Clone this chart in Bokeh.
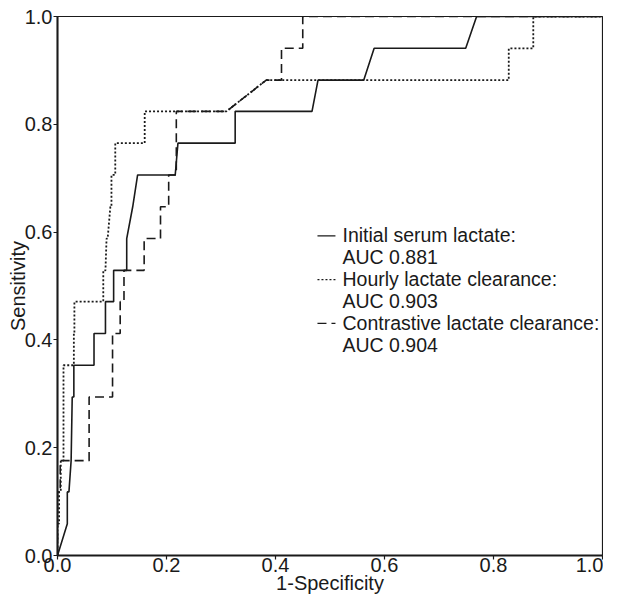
from bokeh.plotting import figure
from bokeh.models import Range1d, FixedTicker, PrintfTickFormatter, Label
from bokeh.embed import file_html
from bokeh.resources import INLINE

FONT = "Liberation Sans"
INK = "#1a1a1a"

# ---- data ----
ticks = [0.0, 0.2, 0.4, 0.6, 0.8, 1.0]
x_title = "1-Specificity"
y_title = "Sensitivity"

initial_fpr = [0.000, 0.018, 0.018, 0.021, 0.025, 0.027, 0.030, 0.030, 0.067, 0.067,
               0.088, 0.088, 0.103, 0.103, 0.127, 0.127, 0.138, 0.147, 0.216, 0.221,
               0.326, 0.326, 0.467, 0.478, 0.562, 0.581, 0.749, 0.769, 1.000]
initial_tpr = [0.000, 0.059, 0.118, 0.118, 0.176, 0.294, 0.294, 0.353, 0.353, 0.412,
               0.412, 0.471, 0.471, 0.529, 0.529, 0.588, 0.647, 0.706, 0.706, 0.765,
               0.765, 0.824, 0.824, 0.882, 0.882, 0.941, 0.941, 1.000, 1.000]

hourly_fpr = [0.000, 0.000, 0.003, 0.003, 0.006, 0.006, 0.011, 0.011, 0.030, 0.030,
              0.031, 0.031, 0.084, 0.084, 0.088, 0.090, 0.092, 0.097, 0.099, 0.099,
              0.106, 0.106, 0.160, 0.160, 0.310, 0.383, 0.828, 0.828, 0.873, 0.873, 1.000]
hourly_tpr = [0.000, 0.059, 0.059, 0.118, 0.118, 0.176, 0.176, 0.353, 0.353, 0.412,
              0.412, 0.471, 0.471, 0.529, 0.529, 0.588, 0.588, 0.647, 0.647, 0.706,
              0.706, 0.765, 0.765, 0.824, 0.824, 0.882, 0.882, 0.941, 0.941, 1.000, 1.000]

contrast_fpr = [0.000, 0.000, 0.005, 0.005, 0.058, 0.058, 0.101, 0.101, 0.115, 0.115,
                0.122, 0.122, 0.159, 0.159, 0.189, 0.189, 0.204, 0.204, 0.218, 0.218,
                0.310, 0.383, 0.411, 0.411, 0.450, 0.450, 1.000]
contrast_tpr = [0.000, 0.118, 0.118, 0.176, 0.176, 0.294, 0.294, 0.412, 0.412, 0.471,
                0.471, 0.529, 0.529, 0.588, 0.588, 0.647, 0.647, 0.706, 0.706, 0.824,
                0.824, 0.882, 0.882, 0.941, 0.941, 1.000, 1.000]

series_names = ["Initial serum lactate:", "Hourly lactate clearance:", "Contrastive lactate clearance:"]
series_auc = ["AUC 0.881", "AUC 0.903", "AUC 0.904"]
series_dash = ["solid", "2 2", "9 5"]
series_width = [1.6, 1.8, 1.6]

# ---- layout ----
W, H = 603, 596
LEFT, TOP, FW, FH = 57, 16, 545, 539

p = figure(width=W, height=H, x_range=Range1d(0, 1), y_range=Range1d(0, 1),
           output_backend="svg", toolbar_location=None,
           min_border_left=LEFT, min_border_right=W - LEFT - FW,
           min_border_top=TOP, min_border_bottom=H - TOP - FH)
p.xgrid.visible = False
p.ygrid.visible = False
p.background_fill_color = "white"
p.border_fill_color = "white"
p.outline_line_color = INK
p.outline_line_width = 1.2

for ax in (p.xaxis[0], p.yaxis[0]):
    ax.ticker = FixedTicker(ticks=ticks)
    ax.formatter = PrintfTickFormatter(format="%.1f")
    ax.axis_line_color = INK
    ax.axis_line_width = 2
    ax.major_tick_line_color = INK
    ax.major_tick_line_width = 1.2
    ax.major_tick_in = 0
    ax.major_tick_out = 4
    ax.minor_tick_line_color = None
    ax.major_label_text_font = FONT
    ax.major_label_text_font_size = "20px"
    ax.major_label_text_color = INK
    ax.axis_label_text_font = FONT
    ax.axis_label_text_font_size = "20px"
    ax.axis_label_text_font_style = "normal"
    ax.axis_label_text_color = INK
p.xaxis.major_label_standoff = -2
p.yaxis.major_label_standoff = 1
p.xaxis.axis_label = x_title
p.yaxis.axis_label = y_title
p.xaxis.axis_label_standoff = -3
p.yaxis.axis_label_standoff = -7

xs = [initial_fpr, hourly_fpr, contrast_fpr]
ys = [initial_tpr, hourly_tpr, contrast_tpr]
for x, y, d, w in zip(xs, ys, series_dash, series_width):
    p.line(x, y, line_color=INK, line_width=w, line_dash=d)

# ---- legend (manual, as in the reference) ----
LEG_TEXT_X = 285           # screen px from frame left
LEG_TOP = 0.594            # first baseline (data units)
LEG_STEP = 0.0406
SAMPLE_X = (0.477, 0.510)  # data units
for i, (name, auc, d) in enumerate(zip(series_names, series_auc, series_dash)):
    y1 = LEG_TOP - (2 * i) * LEG_STEP
    y2 = y1 - LEG_STEP
    for txt, yy in ((name, y1), (auc, y2)):
        p.add_layout(Label(x=LEG_TEXT_X, y=yy, x_units="screen", y_units="data",
                           text=txt, text_font=FONT, text_font_size="19.5px",
                           text_color=INK, text_baseline="alphabetic", text_align="left"))
    p.line(list(SAMPLE_X), [y1 - 0.001, y1 - 0.001], line_color=INK, line_width=1.3, line_dash=d)

open("out.html", "w").write(file_html(p, INLINE))
